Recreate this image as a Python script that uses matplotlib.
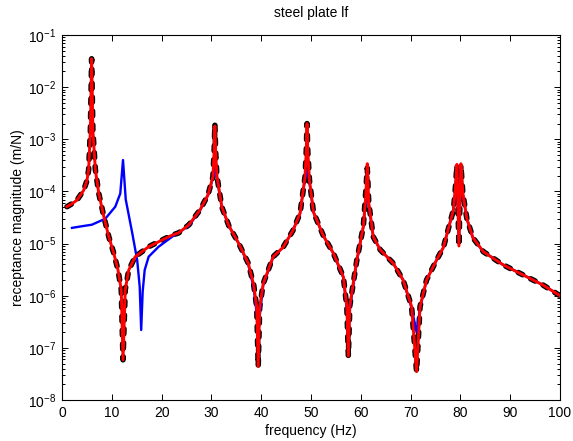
import matplotlib
matplotlib.use("Agg")
import matplotlib.pyplot as plt
from matplotlib.ticker import LogLocator, NullFormatter

plt.rcParams['font.family'] = ['Liberation Sans', 'DejaVu Sans']
plt.rcParams['mathtext.default'] = 'regular'

# Frequency grid (Hz) shared by the two model curves
freq_model = [1.0, 2.0, 3.0, 4.35, 5.0, 5.35, 5.7, 5.95, 6.2, 6.7, 7.4, 8.4, 9.4,
              10.4, 11.25, 11.9, 12.25, 12.7, 13.4, 14.7, 17.4, 20.1, 22.1, 23.4,
              25.5, 27.7, 29.3, 30.3, 30.55, 30.7, 30.85, 31.1, 32.1, 33.5, 35.5,
              37.4, 38.5, 39.1, 39.4, 39.7, 40.4, 42.4, 44.4, 46.4, 47.8, 48.8,
              49.05, 49.2, 49.35, 49.7, 50.5, 52.5, 54.5, 56.5, 57.2, 57.5, 57.8,
              59.2, 60.5, 61.0, 61.3, 61.6, 62.5, 63.9, 66.5, 68.5, 70.2, 71.2,
              71.9, 73.2, 75.2, 76.6, 77.9, 78.6, 79.0, 79.3, 79.7, 80.1, 80.5,
              81.3, 82.5, 84.6, 88.6, 92.6, 96.6, 100.0]

# Red model receptance (m/N)
mag_red = [5.1e-5, 5.8e-5, 6.8e-5, 1.05e-4, 1.6e-4, 2.6e-4, 1.5e-3, 3.5e-2, 1.5e-3,
           2.6e-4, 9.0e-5, 3.3e-5, 1.35e-5, 6.5e-6, 3.1e-6, 1.3e-6, 5.9e-8, 1.3e-6,
           3.1e-6, 5.6e-6, 8.7e-6, 1.17e-5, 1.45e-5, 1.6e-5, 2.3e-5, 4.4e-5, 8.5e-5,
           1.9e-4, 6.0e-4, 1.8e-3, 6.0e-4, 2.0e-4, 5.0e-5, 2.2e-5, 1.0e-5, 4.2e-6,
           1.6e-6, 6.0e-7, 4.4e-8, 6.0e-7, 1.7e-6, 5.6e-6, 8.5e-6, 1.8e-5, 3.8e-5,
           1.9e-4, 6.0e-4, 2.0e-3, 6.0e-4, 1.6e-4, 4.0e-5, 1.4e-5, 6.5e-6, 2.3e-6,
           6.0e-7, 7.0e-8, 6.5e-7, 4.8e-6, 2.1e-5, 8.0e-5, 3.4e-4, 6.0e-5, 1.35e-5,
           7.6e-6, 4.2e-6, 2.0e-6, 6.2e-7, 3.5e-8, 6.2e-7, 2.0e-6, 4.8e-6, 8.5e-6,
           2.5e-5, 4.4e-5, 1.2e-4, 3.3e-4, 9.0e-6, 3.4e-4, 9.0e-5, 3.0e-5, 1.3e-5,
           7.0e-6, 3.9e-6, 2.5e-6, 1.6e-6, 1.0e-6]

# Black dashed model receptance (m/N)
mag_black = [5.1e-5, 5.8e-5, 6.8e-5, 1.05e-4, 1.6e-4, 2.6e-4, 1.5e-3, 3.5e-2, 1.5e-3,
             2.6e-4, 9.0e-5, 3.3e-5, 1.35e-5, 6.5e-6, 3.1e-6, 1.3e-6, 5.9e-8, 1.3e-6,
             3.1e-6, 5.6e-6, 8.7e-6, 1.17e-5, 1.45e-5, 1.6e-5, 2.3e-5, 4.4e-5, 8.5e-5,
             1.9e-4, 6.0e-4, 1.95e-3, 6.0e-4, 2.0e-4, 5.0e-5, 2.2e-5, 1.0e-5, 4.2e-6,
             1.6e-6, 6.0e-7, 4.4e-8, 6.0e-7, 1.7e-6, 5.6e-6, 8.5e-6, 1.8e-5, 3.8e-5,
             1.9e-4, 6.0e-4, 2.0e-3, 6.0e-4, 1.6e-4, 4.0e-5, 1.4e-5, 6.5e-6, 2.3e-6,
             6.0e-7, 7.0e-8, 6.5e-7, 4.8e-6, 2.1e-5, 1.0e-4, 2.8e-4, 6.0e-5, 1.35e-5,
             7.6e-6, 4.2e-6, 2.0e-6, 6.2e-7, 3.5e-8, 6.2e-7, 2.0e-6, 4.8e-6, 8.5e-6,
             2.5e-5, 4.4e-5, 1.2e-4, 3.2e-4, 9.0e-6, 3.2e-4, 9.0e-5, 3.0e-5, 1.3e-5,
             7.0e-6, 3.9e-6, 2.5e-6, 1.6e-6, 1.0e-6]

# Blue measured-style curve
freq_blue = [2.0, 4.0, 6.0, 8.7, 10.7, 11.7, 12.25, 12.8, 14.1, 15.1, 15.6, 15.9,
             16.2, 16.6, 17.4, 19.4, 22.1, 25.5, 27.7, 29.3, 30.3, 30.7, 31.1, 32.1,
             33.5, 35.5, 37.4, 38.5, 39.1, 39.4, 39.8, 40.4, 42.4, 44.4, 46.4, 47.8,
             48.8, 49.2, 49.7, 50.5, 52.5, 54.5, 56.5, 57.2, 57.5, 57.8, 59.2, 60.5,
             61.0, 61.3, 61.6, 62.5, 63.9, 66.5, 68.5, 70.2, 71.2, 71.9, 73.2, 75.2,
             76.6, 77.9, 78.6, 79.0, 79.3, 79.7, 80.1, 80.5, 81.3, 82.5, 84.6, 88.6,
             92.6, 96.6, 100.0]
mag_blue = [2.0e-5, 2.15e-5, 2.3e-5, 3.0e-5, 5.1e-5, 9.1e-5, 4.0e-4, 7.0e-5, 1.6e-5,
            4.8e-6, 1.5e-6, 2.2e-7, 1.2e-6, 3.1e-6, 5.6e-6, 8.7e-6, 1.35e-5, 2.2e-5,
            4.3e-5, 8.5e-5, 1.8e-4, 2.6e-4, 1.8e-4, 5.0e-5, 2.2e-5, 1.0e-5, 4.0e-6,
            1.4e-6, 4.5e-7, 2.2e-7, 5.0e-7, 1.6e-6, 5.5e-6, 8.5e-6, 1.8e-5, 3.8e-5,
            1.8e-4, 2.5e-4, 1.5e-4, 4.0e-5, 1.4e-5, 6.5e-6, 2.2e-6, 5.5e-7, 1.6e-7,
            5.5e-7, 4.6e-6, 2.1e-5, 7.0e-5, 1.2e-4, 5.5e-5, 1.35e-5, 7.6e-6, 4.2e-6,
            2.0e-6, 5.8e-7, 2.0e-7, 5.8e-7, 2.0e-6, 4.8e-6, 8.5e-6, 2.5e-5, 4.4e-5,
            1.1e-4, 2.6e-4, 1.0e-5, 2.6e-4, 9.0e-5, 3.0e-5, 1.3e-5, 7.0e-6, 3.9e-6,
            2.5e-6, 1.6e-6, 1.0e-6]

x_ticks = [0, 10, 20, 30, 40, 50, 60, 70, 80, 90, 100]

fig = plt.figure(figsize=(5.73, 4.41), dpi=100)
ax = fig.add_axes([62 / 573, 41 / 441, 498 / 573, 365 / 441])

ax.plot(freq_model, mag_black, color='black', lw=4.0, ls=(0, (0.9, 1.6)),
        dash_capstyle='round', solid_capstyle='round', zorder=2)
ax.plot(freq_blue, mag_blue, color='blue', lw=1.7, zorder=3)
ax.plot(freq_model, mag_red, color='red', lw=2.1, zorder=4)

ax.set_yscale('log')
ax.set_xlim(0, 100)
ax.set_ylim(1e-8, 1e-1)
ax.set_xticks(x_ticks)
ax.yaxis.set_major_locator(LogLocator(base=10, numticks=20))
ax.yaxis.set_minor_locator(LogLocator(base=10, subs=range(2, 10), numticks=20))
ax.yaxis.set_minor_formatter(NullFormatter())

ax.tick_params(which='both', direction='in', top=True, right=True,
               labelsize=10, width=0.7, colors='black')
ax.tick_params(which='major', length=4, pad=4)
ax.tick_params(which='minor', length=2.2)
ax.tick_params(axis='x', which='minor', top=False, bottom=False)
for s in ax.spines.values():
    s.set_linewidth(0.8)

ax.set_title('steel plate lf', fontsize=10, pad=13)
ax.set_xlabel('frequency (Hz)', fontsize=10, labelpad=3)
ax.set_ylabel('receptance magnitude (m/N)', fontsize=10, labelpad=2)

fig.savefig('out.png', dpi=100)
